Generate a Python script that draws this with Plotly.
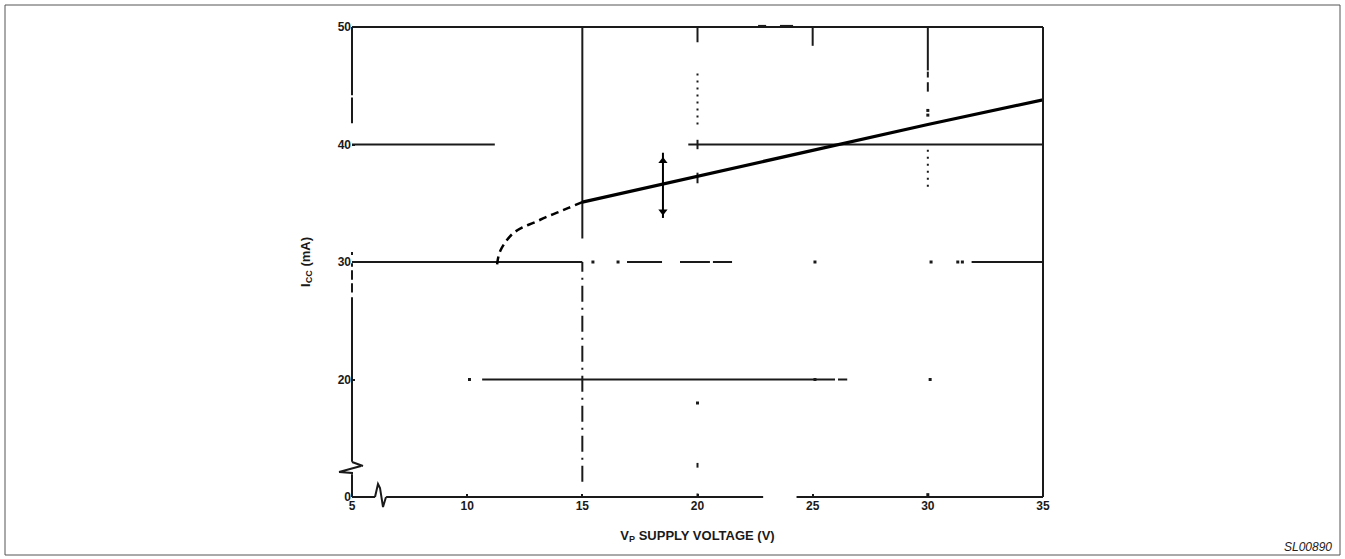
import plotly.graph_objects as go

# ---------------- axes ----------------
X_RANGE = [5, 35]
Y_RANGE = [10, 50]          # broken axis: the bottom value (10) is labelled "0"
x_tickvals = [5, 10, 15, 20, 25, 30, 35]
x_ticktext = ["5", "10", "15", "20", "25", "30", "35"]
y_tickvals = [10, 20, 30, 40, 50]
y_ticktext = ["0", "20", "30", "40", "50"]

# ---------------- data: ICC vs VP ----------------
vp_dashed = [11.3, 11.35, 11.45, 11.7, 12.0, 12.4, 12.9, 13.4, 13.9, 14.4, 15.0]
icc_dashed = [29.8, 30.4, 31.0, 31.8, 32.45, 32.95, 33.35, 33.8, 34.2, 34.6, 35.1]
vp_solid = [15, 20, 25, 30, 35]
icc_solid = [35.1, 37.3, 39.5, 41.7, 43.8]

# spread indicator
spread_vp = [18.5, 18.5]
spread_icc = [33.75, 39.3]
spread_heads_icc = [34.3, 38.6]

# ---------------- grid (as printed, with scan drop-outs) ----------------
# horizontal: (y, x_start, x_end)
h_grid = [(40, 5, 11.2), (40, 19.6, 35),
          (30, 5, 15), (30, 16.94, 18.46), (30, 19.24, 20.54), (30, 20.67, 21.5), (30, 31.9, 35),
          (20, 10.65, 25.97), (20, 26.1, 26.5)]
# vertical solid: (x, y_start, y_end)
v_grid = [(15, 32.0, 50), (20, 48.7, 50), (20, 39.6, 40.4), (20, 36.7, 37.6), (20, 12.5, 12.9),
          (20, 10, 10.3), (25, 48.4, 50), (30, 46.3, 50), (30, 45.7, 46.2), (30, 44.5, 45.3)]
v_grid_dashdot = [(15, 11.3, 30)]
v_grid_dotted = [(20, 41.7, 46.1), (30, 36.4, 39.8)]
grid_dots_x = [15.46, 16.55, 25.1, 30.14, 31.3, 31.5, 10.1, 25.1, 30.1, 20, 30, 30, 30]
grid_dots_y = [30, 30, 30, 30, 30, 30, 20, 20, 20, 18.0, 42.9, 42.5, 10.2]

# frame pieces (axis lines, with gaps)
left_axis = [(44.2, 50), (41.8, 44.0), (30.6, 30.85), (29.6, 29.9), (28.5, 29.3), (27.4, 28.2),
             (13.0, 27.0), (10, 11.9)]
bottom_axis = [(5, 6.0), (6.48, 22.85), (24.3, 35)]
top_axis = [(5, 35)]
right_axis = [(10, 50)]
y_break = [(5.0, 12.98), (5.478, 12.64), None, (5.39, 12.64), (4.44, 12.13), (5.0, 12.04), (5.0, 11.9)]
x_break = [(5.999, 10.0), (6.129, 11.11), (6.216, 10.77), (6.346, 9.15), (6.476, 10.0)]

INK = "#1a1a1a"
FONT = "Liberation Sans, Arial, sans-serif"


def xp(x):
    return (x - X_RANGE[0]) / (X_RANGE[1] - X_RANGE[0])


def yp(y):
    return (y - Y_RANGE[0]) / (Y_RANGE[1] - Y_RANGE[0])


def seg_xy(segs, horizontal):
    xs, ys = [], []
    for c, a, b in segs:
        if horizontal:
            xs += [a, b, None]
            ys += [c, c, None]
        else:
            xs += [c, c, None]
            ys += [a, b, None]
    return xs, ys


fig = go.Figure()

hx, hy = seg_xy(h_grid, True)
fig.add_trace(go.Scatter(x=hx, y=hy, mode="lines", line=dict(color=INK, width=2), hoverinfo="skip"))
vx, vy = seg_xy(v_grid, False)
fig.add_trace(go.Scatter(x=vx, y=vy, mode="lines", line=dict(color=INK, width=2), hoverinfo="skip"))
dx, dy = seg_xy(v_grid_dashdot, False)
fig.add_trace(go.Scatter(x=dx, y=dy, mode="lines", line=dict(color=INK, width=2, dash="16px,6px,2px,6px"),
                         hoverinfo="skip"))
ox, oy = seg_xy(v_grid_dotted, False)
fig.add_trace(go.Scatter(x=ox, y=oy, mode="lines", line=dict(color=INK, width=2, dash="2px,5px"),
                         hoverinfo="skip"))
fig.add_trace(go.Scatter(x=grid_dots_x, y=grid_dots_y, mode="markers",
                         marker=dict(symbol="square", size=3, color=INK), hoverinfo="skip"))

# curve
fig.add_trace(go.Scatter(x=vp_dashed, y=icc_dashed, mode="lines",
                         line=dict(color="#000", width=2.5, dash="8px,5px", shape="spline")))
fig.add_trace(go.Scatter(x=vp_solid, y=icc_solid, mode="lines", line=dict(color="#000", width=3.2)))
# spread
fig.add_trace(go.Scatter(x=spread_vp, y=spread_icc, mode="lines", line=dict(color="#000", width=2)))
fig.add_trace(go.Scatter(x=spread_vp, y=spread_heads_icc, mode="markers",
                         marker=dict(symbol=["triangle-down", "triangle-up"], size=8, color="#000")))

shapes = []
frame = dict(color=INK, width=2)
for a, b in left_axis:
    shapes.append(dict(type="line", xref="paper", yref="paper", x0=xp(5), x1=xp(5), y0=yp(a), y1=yp(b), line=frame))
for a, b in right_axis:
    shapes.append(dict(type="line", xref="paper", yref="paper", x0=xp(35), x1=xp(35), y0=yp(a), y1=yp(b), line=frame))
for a, b in bottom_axis:
    shapes.append(dict(type="line", xref="paper", yref="paper", x0=xp(a), x1=xp(b), y0=yp(10), y1=yp(10), line=frame))
for a, b in top_axis:
    shapes.append(dict(type="line", xref="paper", yref="paper", x0=xp(a), x1=xp(b), y0=yp(50), y1=yp(50), line=frame))


def path_of(points):
    out, move = [], True
    for p in points:
        if p is None:
            move = True
            continue
        out.append(("M" if move else "L") + f"{xp(p[0]):.5f},{yp(p[1]):.5f}")
        move = False
    return " ".join(out)


for brk in (y_break, x_break):
    shapes.append(dict(type="path", xref="paper", yref="paper", path=path_of(brk), line=frame))

# small ink blobs along the top edge
for a, b in [(22.63, 22.98), (23.58, 24.15)]:
    shapes.append(dict(type="line", xref="paper", yref="paper", x0=xp(a), x1=xp(b), y0=yp(50.05), y1=yp(50.05),
                       line=dict(color=INK, width=3)))

# outer page frame
W, H, L, R, T, B = 1345, 559, 352, 302, 27, 62
pw, ph = W - L - R, H - T - B


def pxp(px):
    return (px - L) / pw


def pyp(py):
    return (H - B - py) / ph


shapes.append(dict(type="rect", xref="paper", yref="paper", x0=pxp(5), x1=pxp(1340), y0=pyp(5), y1=pyp(555),
                   line=dict(color="#555", width=1)))

fig.update_layout(
    width=W, height=H, margin=dict(l=L, r=R, t=T, b=B),
    paper_bgcolor="white", plot_bgcolor="white", showlegend=False,
    shapes=shapes,
    font=dict(family=FONT, color=INK, size=13),
    annotations=[dict(text="<i>SL00890</i>", xref="paper", yref="paper", x=pxp(1334), y=pyp(547),
                      xanchor="right", yanchor="middle", showarrow=False,
                      font=dict(family="Liberation Sans, Arial, sans-serif", size=12, color="#222"))],
)
fig.update_xaxes(range=X_RANGE, tickvals=x_tickvals, ticktext=x_ticktext, showgrid=False, zeroline=False,
                 showline=False, ticks="inside", ticklen=3, tickwidth=2, tickcolor=INK,
                 tickfont=dict(size=12, family=FONT, color=INK, weight="bold"),
                 title=dict(text="V<sub>P</sub> SUPPLY VOLTAGE (V)",
                            font=dict(size=13, family=FONT, color=INK, weight="bold"), standoff=18))
fig.update_yaxes(range=Y_RANGE, tickvals=y_tickvals, ticktext=y_ticktext, showgrid=False, zeroline=False,
                 showline=False, ticks="inside", ticklen=3, tickwidth=2, tickcolor=INK,
                 tickfont=dict(size=12, family=FONT, color=INK, weight="bold"),
                 title=dict(text="I<sub>CC</sub> (mA)",
                            font=dict(size=13, family=FONT, color=INK, weight="bold"), standoff=24))

fig.write_html("out.html", config={"displayModeBar": False},
               post_script="document.body.style.margin='0';")
